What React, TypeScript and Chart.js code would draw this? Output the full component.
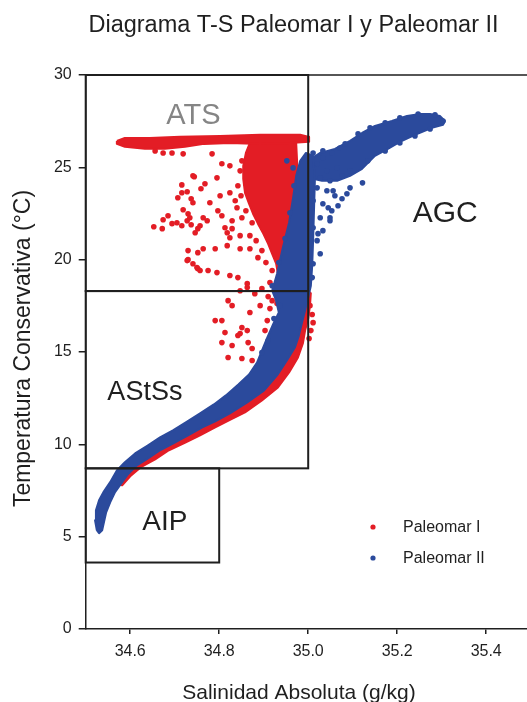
import { useEffect, useRef } from 'react';
import { Chart, registerables } from 'chart.js';

Chart.register(...registerables);

// Axis ticks
const salTicks = [34.6, 34.8, 35.0, 35.2, 35.4];
const tempTicks = [0, 5, 10, 15, 20, 25, 30];

// Paleomar I - scattered samples (Salinidad Absoluta g/kg, Temperatura Conservativa °C)
const p1Sal = [
  34.656, 34.674, 34.694, 34.719, 34.784, 34.806, 34.824, 34.851,
  34.744, 34.716, 34.759, 34.716, 34.728, 34.707, 34.737, 34.741, 34.719, 34.730, 34.685, 34.674, 34.653, 34.672, 34.694, 34.716, 34.728, 34.737, 34.752, 34.746, 34.764,
  34.730, 34.752, 34.730, 34.741, 34.752,
  34.741, 34.795, 34.768, 34.802, 34.824, 34.836, 34.779, 34.797, 34.806, 34.840, 34.851, 34.829, 34.705, 34.734, 34.757, 34.773, 34.813, 34.818, 34.829, 34.824, 34.847, 34.869,
  34.764, 34.791, 34.818, 34.847, 34.869, 34.887, 34.728, 34.750, 34.757, 34.775, 34.795, 34.824, 34.842, 34.863, 34.863, 34.914,
  34.820, 34.829, 34.869, 34.791, 34.806, 34.813, 34.847, 34.863, 34.892, 34.930,
  34.851, 34.806, 34.842, 34.829, 34.865, 34.874, 34.820, 34.851, 34.874, 34.903, 34.914, 34.919, 34.964, 34.941, 34.908,
  34.847, 34.880, 34.896, 34.910,
  35.004, 35.009, 35.011, 35.006, 35.002,
  34.847, 34.842, 34.849, 34.860, 34.874, 34.883, 34.896, 34.905, 34.919, 34.925,
];
const p1Temp = [
  25.89, 25.78, 25.78, 25.73, 25.73, 25.19, 25.08, 25.35,
  24.49, 24.05, 23.84, 23.62, 23.68, 23.35, 23.30, 23.08, 22.70, 22.49, 22.38, 22.16, 21.78, 21.68, 21.95, 21.84, 22.11, 21.89, 21.68, 21.46, 22.27,
  20.49, 20.38, 20.00, 19.78, 19.51,
  24.54, 24.43, 24.11, 23.46, 23.62, 23.19, 23.08, 22.65, 22.38, 22.81, 22.27, 22.11, 22.00, 22.27, 21.84, 22.11, 21.73, 21.46, 21.68, 21.19, 21.30, 21.30,
  20.59, 20.59, 20.76, 20.59, 20.59, 20.11, 19.95, 19.57, 19.41, 19.41, 19.30, 19.14, 19.03, 18.70, 18.49, 18.76,
  17.78, 17.51, 17.14, 16.70, 16.70, 16.05, 16.00, 16.16, 17.51, 17.62,
  16.32, 15.51, 15.89, 15.35, 15.51, 15.19, 14.70, 14.65, 14.54, 16.16, 17.35, 17.78, 17.41, 16.86, 16.70,
  18.32, 18.16, 18.43, 18.00,
  17.51, 17.03, 16.59, 16.16, 15.73,
  24.81, 24.00, 23.46, 22.65, 22.00, 21.03, 20.49, 19.84, 19.41, 18.59,
];

// Paleomar I - dense surface layer (outline)
const p1SurfaceSal = [34.570, 34.588, 34.644, 34.712, 34.802, 34.892, 34.982, 35.002, 35.002, 34.959, 34.892, 34.824, 34.766, 34.723, 34.678, 34.633, 34.588, 34.570];
const p1SurfaceTemp = [26.43, 26.59, 26.59, 26.65, 26.70, 26.76, 26.76, 26.65, 26.38, 26.32, 26.27, 26.32, 26.27, 26.11, 26.00, 26.00, 26.11, 26.27];

// Paleomar I - dense mixed layer (outline)
const p1MixSal = [34.869, 34.860, 34.854, 34.854, 34.858, 34.867, 34.876, 34.887, 34.899, 34.910, 34.919, 34.928, 34.932, 34.937, 34.946, 34.982, 34.982, 34.977, 34.975, 34.973];
const p1MixTemp = [26.32, 25.78, 25.08, 24.38, 23.62, 23.03, 22.49, 21.95, 21.41, 20.86, 20.32, 19.78, 19.24, 18.70, 18.16, 18.32, 20.49, 23.19, 25.35, 26.32];

// Paleomar I - dense thermocline band (outline)
const p1ThermoSal = [35.006, 35.004, 35.000, 34.993, 34.988, 34.977, 34.957, 34.932, 34.896, 34.858, 34.822, 34.791, 34.757, 34.725, 34.687, 34.656, 34.624, 34.600, 34.582, 34.568, 34.600, 34.644, 34.701, 34.768, 34.836, 34.892, 34.932, 34.959, 34.975, 34.984, 34.988];
const p1ThermoTemp = [18.22, 17.51, 16.81, 16.16, 15.46, 14.70, 13.89, 13.08, 12.38, 11.73, 11.30, 10.92, 10.49, 10.11, 9.68, 9.19, 8.76, 8.27, 7.78, 7.84, 8.70, 9.41, 10.16, 11.08, 11.95, 12.92, 14.00, 15.08, 16.16, 17.24, 18.22];

// Paleomar II - scattered samples
const p2Sal = [35.011, 35.033, 35.053, 35.071, 35.020, 35.042, 35.065, 35.027, 35.049, 35.076, 35.020, 35.042, 35.060, 35.076, 35.011, 35.033, 35.053, 35.027, 35.049, 35.011, 35.033, 35.020, 35.027, 35.011, 35.009, 34.952, 34.966, 35.056, 35.087, 35.094, 35.122, 35.067, 35.049, 35.022, 35.045, 35.033, 35.083, 35.112, 35.139, 35.173, 35.206, 35.247, 35.285, 35.303, 35.094, 35.134, 35.173, 35.206, 35.240, 35.274, 34.910, 34.896, 34.923, 34.937, 34.919, 34.934, 34.948, 34.959, 34.968];
const p2Temp = [25.78, 25.51, 25.78, 26.05, 25.19, 24.81, 24.97, 24.43, 24.27, 24.54, 23.89, 23.73, 23.46, 23.30, 23.19, 23.03, 22.65, 22.27, 22.11, 21.73, 21.57, 21.03, 20.32, 19.78, 19.03, 25.35, 24.97, 23.73, 23.57, 23.89, 24.16, 22.92, 22.27, 21.41, 22.81, 25.89, 26.27, 26.81, 27.14, 27.41, 27.68, 27.89, 27.84, 27.51, 24.81, 25.35, 25.89, 26.32, 26.70, 27.08, 15.62, 14.97, 16.81, 17.51, 18.59, 19.84, 21.14, 22.54, 24.00];

// Paleomar II - dense main T-S curve (outline)
const p2CoreSal = [34.525, 34.521, 34.523, 34.530, 34.541, 34.555, 34.570, 34.588, 34.611, 34.640, 34.667, 34.696, 34.725, 34.757, 34.788, 34.815, 34.843, 34.867, 34.885, 34.896, 34.908, 34.921, 34.934, 34.928, 34.919, 34.930, 34.943, 34.957, 34.966, 34.973, 34.982, 34.995, 35.011, 35.015, 35.013, 35.011, 35.009, 35.006, 35.000, 34.993, 34.986, 34.979, 34.970, 34.952, 34.930, 34.901, 34.863, 34.824, 34.791, 34.762, 34.730, 34.701, 34.667, 34.640, 34.615, 34.595, 34.582, 34.566, 34.555, 34.546, 34.541, 34.537, 34.530];
const p2CoreTemp = [5.35, 5.89, 6.43, 6.97, 7.46, 7.95, 8.59, 9.03, 9.51, 9.95, 10.38, 10.76, 11.19, 11.68, 12.16, 12.65, 13.24, 13.78, 14.43, 15.08, 15.78, 16.49, 17.14, 17.78, 18.32, 19.24, 20.65, 22.00, 23.35, 24.54, 25.35, 25.78, 25.62, 24.27, 22.65, 21.03, 19.68, 18.59, 17.95, 17.24, 16.59, 15.89, 15.24, 14.54, 13.73, 12.92, 12.27, 11.68, 11.24, 10.92, 10.49, 10.11, 9.68, 9.24, 8.86, 8.38, 7.95, 7.41, 6.86, 6.32, 5.78, 5.35, 5.19];

// Paleomar II - dense warm salty surface water (outline)
const p2WarmSal = [35.000, 35.027, 35.060, 35.094, 35.121, 35.150, 35.188, 35.222, 35.251, 35.274, 35.296, 35.307, 35.303, 35.278, 35.240, 35.206, 35.179, 35.150, 35.121, 35.094, 35.065, 35.031, 35.011];
const p2WarmTemp = [25.35, 25.78, 26.00, 26.43, 26.86, 27.24, 27.51, 27.78, 27.89, 27.89, 27.78, 27.51, 27.30, 27.14, 26.76, 26.38, 26.00, 25.62, 24.92, 24.54, 24.27, 24.27, 24.38];

// Water mass boxes
const massNames = ['ATS', 'AStSs', 'AIP'];
const massSalMin = [34.5, 34.5, 34.5];
const massSalMax = [35.0, 35.0, 34.8];
const massTempMin = [18.3, 8.7, 3.6];
const massTempMax = [30, 18.3, 8.7];

// Water mass labels
const labelText = ['ATS', 'AGC', 'AStSs', 'AIP'];
const labelSal = [34.742, 35.308, 34.633, 34.678];
const labelTemp = [27.78, 22.49, 12.81, 5.78];
const labelFontPx = [29, 30, 27, 28];
const labelColor = ['#858585', '#1f1f1f', '#1f1f1f', '#1f1f1f'];

const RED = '#e31d25';
const BLUE = '#2b4a9c';
const INK = '#1f1f1f';
const FONT = '"Liberation Sans", Arial, Helvetica, sans-serif';
const CANVAS_W = 545;
const CANVAS_H = 702;

const pts = (s: number[], t: number[]) => s.map((v, i) => ({ x: v, y: t[i] }));
const ring = (s: number[], t: number[]) => [...pts(s, t), { x: s[0], y: t[0] }];

const cloud = (data: { x: number; y: number }[], color: string, order: number) => ({
  data,
  showLine: true,
  fill: 'shape',
  backgroundColor: color,
  borderColor: color,
  borderWidth: 2,
  borderJoinStyle: 'round',
  pointRadius: 0,
  order,
});

const overlayPlugin = {
  id: 'tsOverlay',
  beforeDraw(chart: any) {
    const { ctx, width, height } = chart;
    ctx.save();
    ctx.fillStyle = '#ffffff';
    ctx.fillRect(0, 0, width, height);
    ctx.restore();
  },
  afterDraw(chart: any) {
    const { ctx, chartArea: a, scales } = chart;
    const xs = scales.x;
    const ys = scales.y;
    ctx.save();

    // plot frame (top and right sides)
    ctx.strokeStyle = INK;
    ctx.lineWidth = 1.5;
    ctx.beginPath();
    ctx.moveTo(a.left, a.top);
    ctx.lineTo(a.right, a.top);
    ctx.lineTo(a.right, a.bottom);
    ctx.stroke();

    // water mass boxes
    ctx.lineWidth = 2;
    massNames.forEach((_, i) => {
      const x0 = xs.getPixelForValue(massSalMin[i]);
      const x1 = xs.getPixelForValue(massSalMax[i]);
      const y0 = ys.getPixelForValue(massTempMax[i]);
      const y1 = ys.getPixelForValue(massTempMin[i]);
      ctx.strokeRect(x0, y0, x1 - x0, y1 - y0);
    });

    // water mass names
    ctx.textAlign = 'center';
    ctx.textBaseline = 'middle';
    labelText.forEach((t, i) => {
      ctx.font = `${labelFontPx[i]}px ${FONT}`;
      ctx.fillStyle = labelColor[i];
      ctx.fillText(t, xs.getPixelForValue(labelSal[i]), ys.getPixelForValue(labelTemp[i]));
    });

    // legend
    const legend = [
      { text: 'Paleomar I', color: RED, y: 527 },
      { text: 'Paleomar II', color: BLUE, y: 558 },
    ];
    ctx.textAlign = 'left';
    ctx.font = `16px ${FONT}`;
    legend.forEach((l) => {
      ctx.fillStyle = l.color;
      ctx.beginPath();
      ctx.arc(373, l.y, 2.6, 0, Math.PI * 2);
      ctx.fill();
      ctx.fillStyle = INK;
      ctx.fillText(l.text, 403, l.y + 1);
    });

    // chart title
    ctx.textAlign = 'center';
    ctx.textBaseline = 'alphabetic';
    ctx.font = `23.5px ${FONT}`;
    ctx.fillText('Diagrama T-S Paleomar I y Paleomar II', 293.5, 32);

    // x-axis title
    ctx.font = `21px ${FONT}`;
    ctx.fillText('Salinidad Absoluta (g/kg)', 299, 699);

    // y-axis title
    ctx.translate(29.5, 348.5);
    ctx.rotate(-Math.PI / 2);
    ctx.font = `23px ${FONT}`;
    ctx.fillText('Temperatura Conservativa (°C)', 0, 0);

    ctx.restore();
  },
};

export default function App() {
  const canvasRef = useRef<HTMLCanvasElement | null>(null);

  useEffect(() => {
    const canvas = canvasRef.current;
    if (!canvas) return;
    const chart = new Chart(canvas, {
      type: 'scatter',
      data: {
        datasets: [
          { label: 'Paleomar II', data: pts(p2Sal, p2Temp), backgroundColor: BLUE, borderWidth: 0, pointRadius: 2.8, order: 1 },
          { label: 'Paleomar II core', ...cloud(ring(p2CoreSal, p2CoreTemp), BLUE, 2) },
          { label: 'Paleomar II warm', ...cloud(ring(p2WarmSal, p2WarmTemp), BLUE, 2) },
          { label: 'Paleomar I', data: pts(p1Sal, p1Temp), backgroundColor: RED, borderWidth: 0, pointRadius: 2.8, order: 3 },
          { label: 'Paleomar I surface', ...cloud(ring(p1SurfaceSal, p1SurfaceTemp), RED, 4) },
          { label: 'Paleomar I mixed', ...cloud(ring(p1MixSal, p1MixTemp), RED, 4) },
          { label: 'Paleomar I thermocline', ...cloud(ring(p1ThermoSal, p1ThermoTemp), RED, 4) },
        ] as any,
      },
      options: {
        responsive: false,
        animation: false,
        events: [],
        layout: { padding: { top: 75, left: 0, right: CANVAS_W - 530.7, bottom: 0 } },
        plugins: {
          legend: { display: false },
          title: { display: false },
          tooltip: { enabled: false },
        },
        scales: {
          x: {
            type: 'linear',
            min: 34.5,
            max: 35.5,
            afterBuildTicks: (s: any) => {
              s.ticks = salTicks.map((v) => ({ value: v }));
            },
            afterFit: (s: any) => {
              s.height = 73;
            },
            ticks: {
              callback: (v: any) => Number(v).toFixed(1),
              font: { size: 16, family: FONT },
              color: INK,
              padding: 8,
              maxRotation: 0,
              autoSkip: false,
            },
            grid: { drawOnChartArea: false, drawTicks: true, tickLength: 5, color: INK, lineWidth: 1.5 },
            border: { color: INK, width: 1.5 },
          },
          y: {
            type: 'linear',
            min: 0,
            max: 30,
            afterBuildTicks: (s: any) => {
              s.ticks = tempTicks.map((v) => ({ value: v }));
            },
            afterFit: (s: any) => {
              s.width = 85.7;
            },
            ticks: {
              font: { size: 16, family: FONT },
              color: INK,
              padding: 7,
              autoSkip: false,
            },
            grid: { drawOnChartArea: false, drawTicks: true, tickLength: 7, color: INK, lineWidth: 1.5 },
            border: { color: INK, width: 1.5 },
          },
        },
      } as any,
      plugins: [overlayPlugin],
    });
    return () => chart.destroy();
  }, []);

  return (
    <div
      style={{
        position: 'absolute',
        left: 0,
        top: 0,
        width: 527,
        height: 702,
        overflow: 'hidden',
        background: '#ffffff',
      }}
    >
      <canvas ref={canvasRef} width={CANVAS_W} height={CANVAS_H} style={{ display: 'block' }} />
    </div>
  );
}
